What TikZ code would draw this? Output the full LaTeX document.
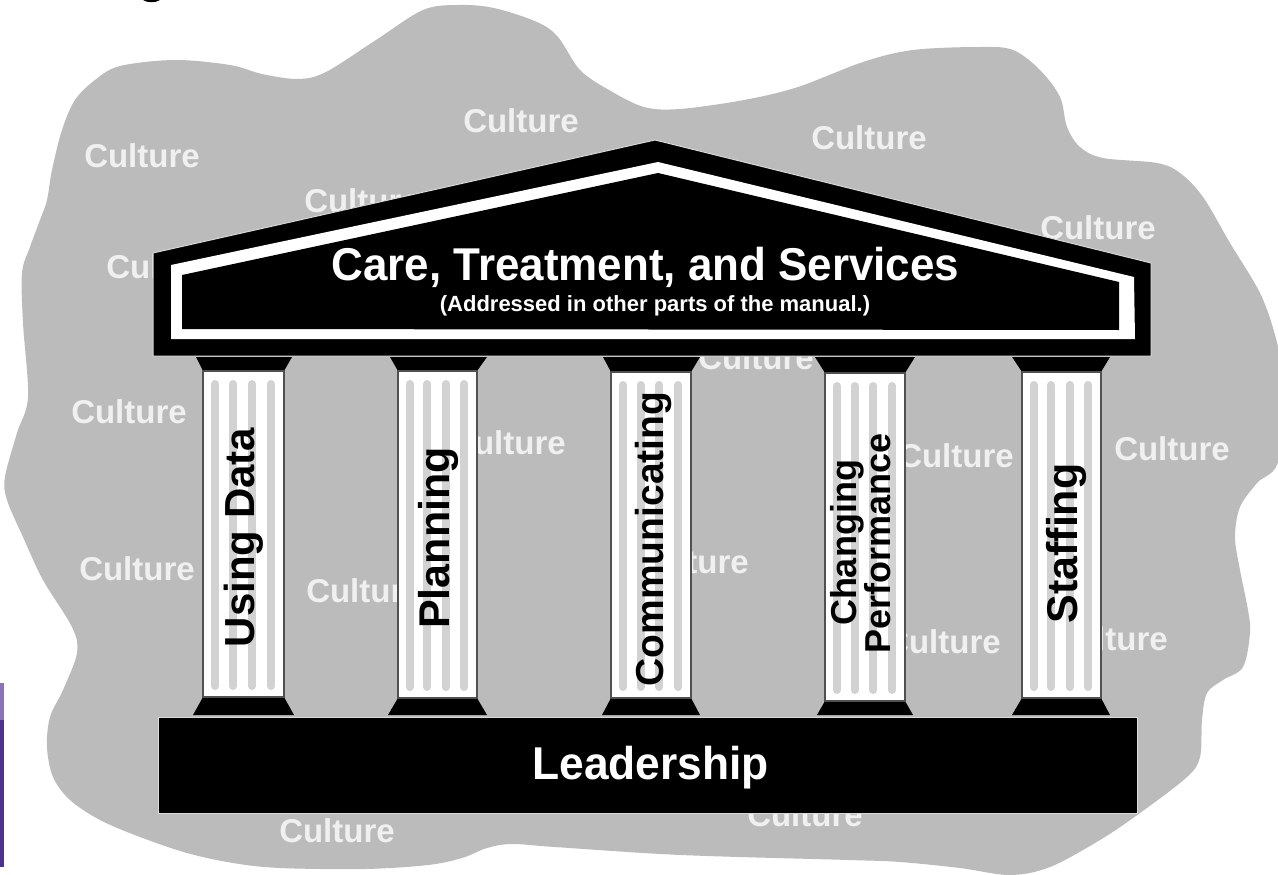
\documentclass[tikz,border=0pt]{standalone}
\usepackage{fontspec}
\setmainfont{Liberation Sans}
\definecolor{blobgray}{HTML}{BBBBBB}
\definecolor{flute}{HTML}{D2D2D2}
\definecolor{shaftedge}{HTML}{505050}
\definecolor{culturetext}{HTML}{F0F0F0}
\definecolor{purpledark}{HTML}{4B3190}
\definecolor{purplelight}{HTML}{8A73B8}
\tikzset{
  culture/.style={text=culturetext,font=\fontsize{33}{33}\selectfont\bfseries,inner sep=0pt},
  collabel/.style={text=black,inner sep=0pt,rotate=90,align=center},
  shaft/.style={fill=white,draw=shaftedge,line width=1.5pt},
  capblock/.style={fill=black,draw=none},
  flutestripe/.style={draw=flute,line width=8pt,line cap=round},
  slab/.style={fill=black,draw=white!85!black,line width=1pt},
  whitetext/.style={text=white,inner sep=0pt,anchor=base}
}
\newcommand{\fsz}[1]{\fontsize{#1}{#1}\selectfont\bfseries}
% #1 left top, #2 right top, #3 shaft left, #4 shaft right, #5 base left, #6 base right, #7 shaft bottom, #8 shaft top
\newcommand{\mypillar}[8]{%
  \fill[capblock] (#1,357) -- (#2,357) -- (#4,#8) -- (#3,#8) -- cycle;
  \fill[capblock] (#3,#7) -- (#4,#7) -- (#6,715) -- (#5,715) -- cycle;
  \draw[shaft] (#3,#8) rectangle (#4,#7);
  \foreach \f in {0.15,0.37,0.605,0.84}{
    \draw[flutestripe] ({#3+\f*(#4-#3)},{#8+13}) -- ({#3+\f*(#4-#3)},{#7-11});
  }
}
\begin{document}
\begin{tikzpicture}[x=1pt,y=-1pt]
\useasboundingbox (0,0) rectangle (1278,875);
\clip (0,0) rectangle (1278,875);
\fill[white] (0,0) rectangle (1278,875);
% stray pieces at the image edge
\fill[black] (143,0) .. controls (147,3) and (156,3) .. (160,0) -- cycle;
\fill[purplelight] (0,683) rectangle (4,720);
\fill[purpledark] (0,720) rectangle (4,867);
% culture blob
\fill[blobgray] plot[smooth cycle,tension=0.55] coordinates {
 (47,200) (52,170) (62,130) (75,100) (95,80) (120,66) (175,60) (230,65) (262,74)
 (298,79) (326,72) (376,40) (423,10) (458,5) (494,8) (537,22) (558,37) (580,70)
 (609,90) (644,107) (680,109) (744,100) (798,87) (863,62) (913,50) (980,47)
 (1013,50) (1040,70) (1060,97) (1067,127) (1080,147) (1103,158) (1157,163)
 (1180,173) (1203,197) (1230,243) (1260,293) (1275,335) (1279,363) (1279,458)
 (1257,483) (1240,507) (1235,537) (1240,570) (1248,610) (1250,633) (1243,667)
 (1223,680) (1207,693) (1202,720) (1200,757) (1187,777) (1140,813) (1100,840)
 (1050,867) (1010,875) (960,868) (900,862) (849,860) (681,855) (555,847) (512,844)
 (487,848) (462,858) (428,865) (365,869) (280,868) (233,863) (187,853) (140,837)
 (100,820) (70,800) (53,777) (47,747) (50,717) (63,690) (77,653) (72,627) (43,580)
 (23,537) (7,500) (5,477) (17,433) (28,397) (23,323) (22,273) (30,247) (40,220)
};
% culture words (hidden in part by the temple)
\node[culture] (c1) at (142,156) {Culture};
\node[culture] (c2) at (521,121) {Culture};
\node[culture] (c3) at (869,138) {Culture};
\node[culture] (c4) at (1098,228) {Culture};
\node[culture] (c5) at (362,201) {Culture};
\node[culture] (c6) at (164,267) {Culture};
\node[culture] (c7) at (129,412) {Culture};
\node[culture] (c8) at (508,443) {Culture};
\node[culture] (c9) at (756,358) {Culture};
\node[culture] (c10) at (1172,449) {Culture};
\node[culture] (c11) at (956,456) {Culture};
\node[culture] (c12) at (137,569) {Culture};
\node[culture] (c13) at (364,591) {Culture};
\node[culture] (c14) at (691,562) {Culture};
\node[culture] (c15) at (943,642) {Culture};
\node[culture] (c16) at (1110,639) {Culture};
\node[culture] (c17) at (337,831) {Culture};
\node[culture] (c18) at (805,815) {Culture};
% pillars
\mypillar{196}{292}{203}{284}{193}{294}{697}{371}
\mypillar{390}{487}{398}{477}{388}{487}{698}{371}
\mypillar{603}{700}{611}{691}{602}{700}{698}{372}
\mypillar{815}{915}{825}{905}{817}{913}{701}{373}
\mypillar{1012}{1110}{1022}{1101}{1012}{1110}{698}{372}
% pediment
\fill[slab] (153,253) -- (655,140) -- (1151,263) -- (1151,356) -- (153,356) -- cycle;
\fill[white] (171,265) -- (658,162) -- (1134,277) -- (1135,339) -- (171,339) -- cycle;
\fill[black] (182,275) -- (658,173) -- (1119,282) -- (1119,330) -- (182,329) -- cycle;
% base
\fill[slab] (158,717) rectangle (1137,813);
% labels
\node[whitetext] (roof) at (645.5,280) {\scalebox{.955}[1]{\fsz{46}Care, Treatment, and Services}};
\node[whitetext] (roofsub) at (655,311) {\fsz{22}(Addressed in other parts of the manual.)};
\node[whitetext] (lead) at (650.5,779) {\scalebox{.963}[1]{\fsz{46}Leadership}};
\node[collabel,font=\fsz{42}] (p1) at (244,537.5) {Using Data};
\node[collabel,font=\fsz{43}] (p2) at (438,538) {Planning};
\node[collabel,font=\fsz{39}] (p3) at (653,539) {Communicating};
\node[collabel,font=\fontsize{36}{34}\selectfont\bfseries] (p4) at (861,543) {Changing\\Performance};
\node[collabel,font=\fsz{43}] (p5) at (1066,543.5) {Staffing};
\end{tikzpicture}
\end{document}
